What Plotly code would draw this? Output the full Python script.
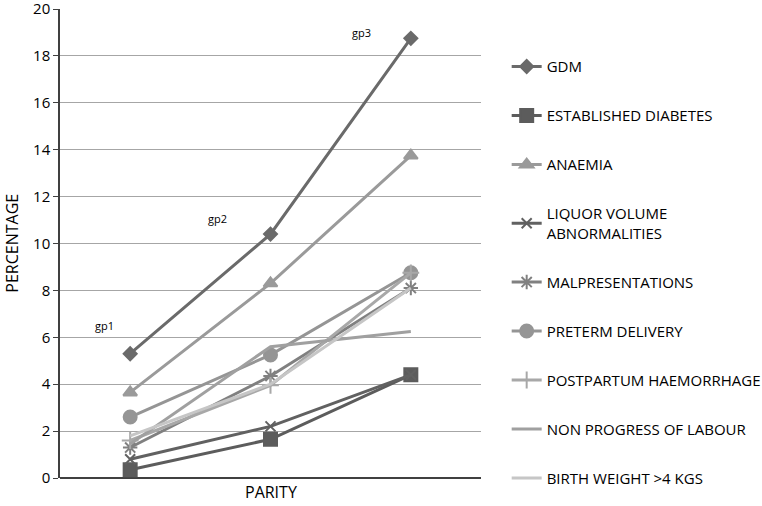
import plotly.graph_objects as go

categories = [0, 1, 2]
series_names = ["GDM", "ESTABLISHED DIABETES", "ANAEMIA", "LIQUOR VOLUME<br>ABNORMALITIES",
                "MALPRESENTATIONS", "PRETERM DELIVERY", "POSTPARTUM HAEMORRHAGE",
                "NON PROGRESS OF LABOUR", "BIRTH WEIGHT >4 KGS"]
gdm = [5.3, 10.4, 18.75]
established_diabetes = [0.35, 1.65, 4.4]
anaemia = [3.65, 8.3, 13.75]
liquor_volume = [0.8, 2.2, 4.4]
malpresentations = [1.3, 4.35, 8.1]
preterm = [2.6, 5.25, 8.75]
postpartum = [1.6, 3.95, 8.75]
non_progress = [1.45, 5.6, 6.25]
birth_weight = [1.8, 4.0, 8.1]
y_ticks = [0, 2, 4, 6, 8, 10, 12, 14, 16, 18, 20]
group_labels = ["gp1", "gp2", "gp3"]
group_label_x = [-0.18, 0.62, 1.65]
group_label_y = [6.5, 11.05, 19.0]

values = [gdm, established_diabetes, anaemia, liquor_volume, malpresentations,
          preterm, postpartum, non_progress, birth_weight]
colors = ["#6a6a6a", "#5c5c5c", "#9a9a9a", "#616161", "#808080",
          "#959595", "#a8a8a8", "#a0a0a0", "#c6c6c6"]
symbols = ["diamond", "square", "triangle-up", "x-thin-open", "asterisk-open",
           "circle", "cross-thin-open", None, None]
sizes = [10, 13, 12, 10, 12, 13, 12, 0, 0]

fig = go.Figure()
for i, (name, vals) in enumerate(zip(series_names, values)):
    if symbols[i] is None:
        mode = "lines"
        marker = None
    else:
        mode = "lines+markers"
        marker = dict(symbol=symbols[i], size=sizes[i], color=colors[i],
                      line=dict(color=colors[i], width=2))
    fig.add_trace(go.Scatter(
        x=categories, y=vals, name=name, mode=mode,
        line=dict(color=colors[i], width=3),
        marker=marker, legendgroup=f"g{i}",
    ))

for t, x, y in zip(group_labels, group_label_x, group_label_y):
    fig.add_annotation(x=x, y=y, text=t, showarrow=False,
                       font=dict(size=11, color="#000000", family="Open Sans"),
                       bgcolor="white")

# axis titles as annotations
fig.add_annotation(xref="paper", yref="paper", x=0.5, y=-0.03, yanchor="middle",
                   text="PARITY", showarrow=False,
                   font=dict(size=16, family="Open Sans", color="#000000"))
fig.add_annotation(xref="paper", yref="paper", x=-0.116, xanchor="center",
                   y=0.5, yanchor="middle", textangle=-90,
                   text="PERCENTAGE", showarrow=False,
                   font=dict(size=16, family="Open Sans", color="#000000"))

fig.update_layout(
    width=762, height=506,
    margin=dict(l=60, r=281, t=9, b=28, autoexpand=False),
    paper_bgcolor="white", plot_bgcolor="white",
    font=dict(family="Open Sans", color="#000000"),
    showlegend=True,
    legend=dict(x=1.061, y=0.912, xanchor="left", yanchor="top",
                font=dict(size=15, family="Open Sans", color="#000000"),
                tracegroupgap=26.5, itemwidth=30, bgcolor="rgba(0,0,0,0)"),
    xaxis=dict(range=[-0.5, 2.5], showticklabels=False, showgrid=False,
               zeroline=False, showline=False, ticks="", automargin=False),
    yaxis=dict(range=[0, 20], tickvals=y_ticks, showgrid=True,
               gridcolor="#a6a6a6", gridwidth=1, zeroline=True,
               zerolinecolor="#404040", zerolinewidth=1.5,
               showline=True, linecolor="#404040", linewidth=1.5,
               ticks="outside", ticklen=5, tickcolor="#404040",
               tickfont=dict(size=15), automargin=False,
               ticklabeloverflow="allow"),
)

fig.write_html("out.html", config={"displayModeBar": False},
               post_script="document.body.style.margin='0px';document.body.style.overflow='hidden';")
